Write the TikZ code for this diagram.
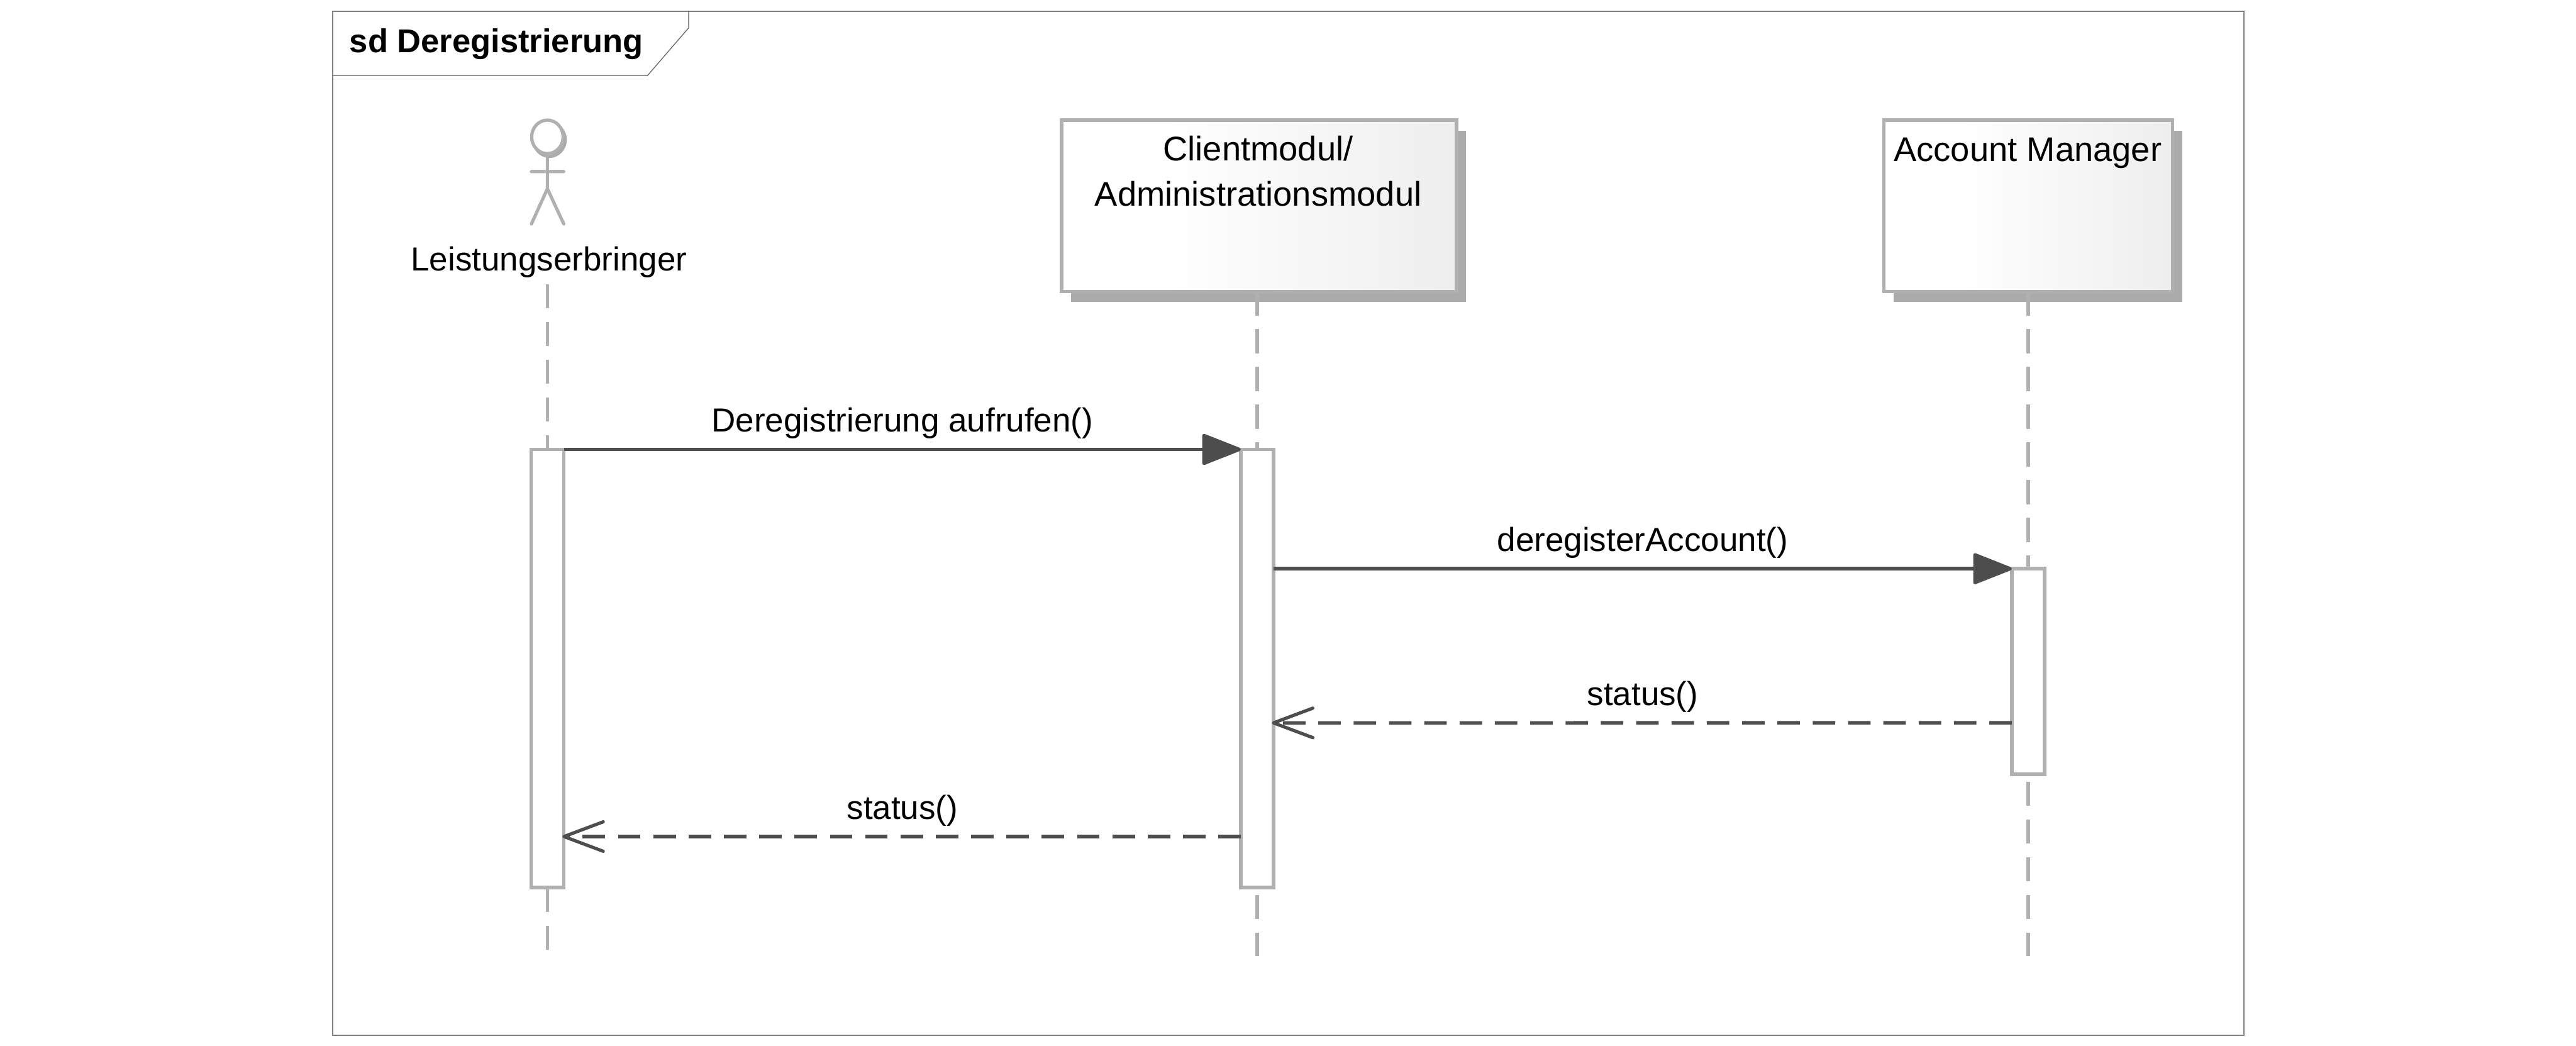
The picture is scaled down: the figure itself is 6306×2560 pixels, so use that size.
\documentclass[tikz,border=0pt]{standalone}
\usepackage{xcolor}
\usepackage{fontspec}
\setmainfont{Liberation Sans}
\usetikzlibrary{arrows.meta, positioning, shadows}
\definecolor{seqgray}{HTML}{B0B0B0}
\definecolor{seqshadow}{HTML}{ABABAB}
\definecolor{seqdark}{HTML}{4D4D4D}
\definecolor{seqframe}{HTML}{808080}
\definecolor{seqfill}{HTML}{EEEEEE}
\pgfdeclarehorizontalshading{boxfade}{100bp}{color(0bp)=(white); color(38bp)=(white); color(75bp)=(seqfill); color(100bp)=(seqfill)}

\begin{document}
\begin{tikzpicture}[
    x=0.01cm, y=-0.01cm,
    seqfont/.style={font=\fontsize{23.2pt}{31.3pt}\selectfont},
    part/.style={draw=seqgray, line width=0.085cm, shading=boxfade, anchor=north west, inner sep=0pt, outer sep=0pt, minimum height=4.19cm, drop shadow={shadow xshift=0.23cm, shadow yshift=-0.26cm, fill=seqshadow, opacity=1}},
    parttext/.style={font=\fontsize{23.8pt}{31.3pt}\selectfont, anchor=base, inner sep=0pt, align=center},
    lifeline/.style={draw=seqgray, line width=0.085cm, dash pattern=on 0.59cm off 0.333cm},
    activation/.style={draw=seqgray, fill=white, line width=0.085cm, inner sep=0pt, outer sep=0pt, minimum width=0.8cm, anchor=north},
    call/.style={draw=seqdark, line width=0.085cm, -{Triangle[length=1.02cm, width=0.78cm, round]}},
    reply/.style={draw=seqdark, line width=0.085cm, shorten >=-0.04cm, dash pattern=on 0.55cm off 0.314cm, -{Straight Barb[length=0.96cm, width=0.72cm, line width=0.08cm, round]}},
    msg/.style={seqfont, anchor=base, inner sep=0pt},
    actorline/.style={draw=seqgray, line width=0.08cm, line cap=round},
]
\useasboundingbox (0,0) rectangle (6306,2560);

% Frame
\node[draw=seqframe, line width=0.03cm, inner sep=0pt, outer sep=0pt, minimum width=46.77cm, minimum height=25.06cm, anchor=north west] (frame) at (814,27) {};
\draw[black!60, line width=0.02cm] (frame.north west |- 0,185) -- (1585,185) -- (1686,68) -- (1686,27);
\node[font=\fontsize{23pt}{28pt}\selectfont\bfseries, anchor=base west, inner sep=0pt] (title) at (855,128.6) {sd Deregistrierung};

% Actor
\fill[seqshadow] (1345,342) ellipse [x radius=42.5, y radius=44.5];
\draw[seqgray, fill=white, line width=0.08cm] (1340,335) ellipse [x radius=38.5, y radius=41];
\draw[actorline] (1340,380) -- (1340,462) (1301,420) -- (1380,420) (1301,548) -- (1340,462) -- (1380,548);
\node[seqfont, anchor=base, inner sep=0pt] (actor) at (1344,662) {Leistungserbringer};

% Lifeline heads
\node[part, minimum width=9.66cm] (client) at (2599,294) {};
\node[part, minimum width=7.06cm] (account) at (4612,294) {};
\node[parttext] (clienttext) at (3080,504) {Clientmodul/\\Administrationsmodul};
\node[parttext] (accounttext) at (4964,395) {Account Manager};

% Lifelines
\coordinate (actortop) at (1340.5,696);
\coordinate (actorend) at (1340.5,2325);
\coordinate (clientend) at (3077.5,2340);
\coordinate (accountend) at (4964.8,2340);
\draw[lifeline] (actortop) -- (actorend);
\draw[lifeline] (clientend |- client.south) -- (clientend);
\draw[lifeline] (accountend |- account.south) -- (accountend);

% Activations
\node[activation, minimum height=10.72cm] (actactor) at (1340.5,1100) {};
\node[activation, minimum height=10.72cm] (actclient) at (3077.5,1100) {};
\node[activation, minimum height=5.03cm] (actaccount) at (4964.8,1392) {};

% Messages
\draw[call] (actactor.north east) -- node[msg, pos=0.5, yshift=0.43cm] (m1) {Deregistrierung aufrufen()} (actclient.north west);
\draw[call] (actclient.east |- actaccount.north) -- node[msg, pos=0.5, yshift=0.43cm] (m2) {deregisterAccount()} (actaccount.north west);
\draw[reply] ([yshift=1.26cm]actaccount.south west) -- node[msg, pos=0.5, yshift=0.42cm] (m3) {status()} ([yshift=4.03cm]actclient.south east);
\draw[reply] ([yshift=1.25cm]actclient.south west) -- node[msg, pos=0.5, yshift=0.43cm] (m4) {status()} ([yshift=1.25cm]actactor.south east);

\end{tikzpicture}
\end{document}
